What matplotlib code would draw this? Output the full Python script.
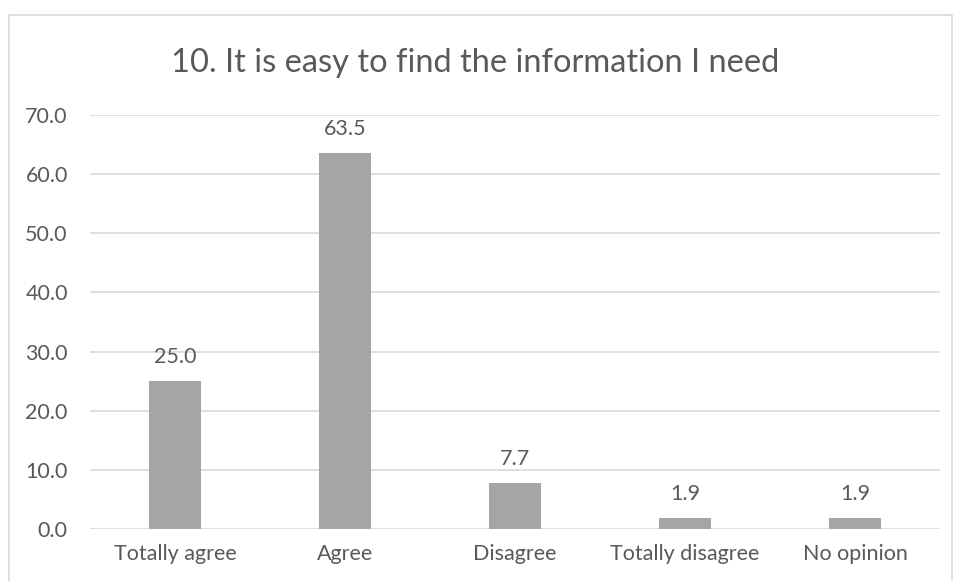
import matplotlib.pyplot as plt
from matplotlib.patches import Rectangle

categories = ['Totally agree', 'Agree', 'Disagree', 'Totally disagree', 'No opinion']
values = [25.0, 63.5, 7.7, 1.9, 1.9]
yticks = [0, 10, 20, 30, 40, 50, 60, 70]

txt = '#595959'
plt.rcParams['font.family'] = ['Lato', 'DejaVu Sans']

fig = plt.figure(figsize=(9.55, 5.81), dpi=100)
ax = fig.add_axes([90/955, 1-529/581, 850/955, (529-115)/581])

# outer chart border
fig.patches.append(Rectangle((9/955, -0.01), (952-9)/955, 1-15/581+0.01,
                             transform=fig.transFigure, fill=False,
                             edgecolor='#d9d9d9', lw=1.2))

x = range(len(categories))
ax.bar(x, values, width=0.31, color='#a5a5a5', zorder=3)
for i, v in zip(x, values):
    ax.annotate(f'{v:.1f}', (i, v), xytext=(0, 13), textcoords='offset points',
                ha='center', va='baseline', fontsize=15.5, color=txt)

ax.set_xlim(-0.5, len(categories) - 0.5)
ax.set_ylim(0, 70)
ax.set_yticks(yticks)
ax.set_yticklabels([f'{t:.1f}' for t in yticks])
ax.set_xticks(list(x))
ax.set_xticklabels(categories)
ax.tick_params(length=0, labelsize=15.5, colors=txt)
ax.tick_params(axis='y', pad=16)
ax.tick_params(axis='x', pad=11)
ax.grid(axis='y', color='#d9d9d9', lw=1.2, zorder=0)
for s in ax.spines.values():
    s.set_visible(False)

fig.text(475/955, 1-63/581, '10. It is easy to find the information I need',
         ha='center', va='center', fontsize=23.5, color=txt)

fig.savefig('out.png', dpi=100)
